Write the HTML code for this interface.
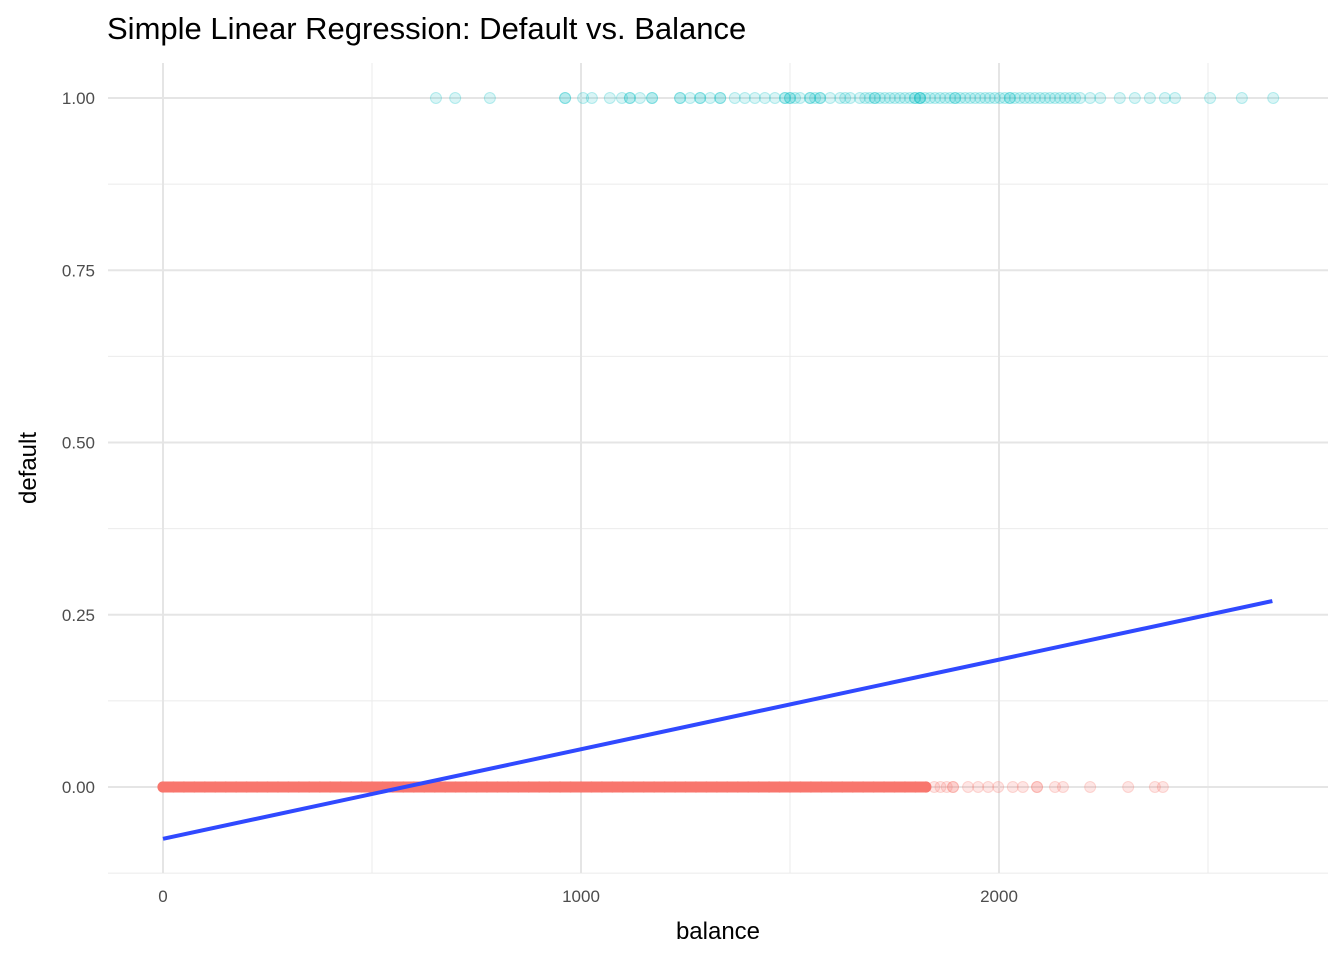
<!DOCTYPE html>
<html><head><meta charset="utf-8"><style>
body{margin:0;background:#fff;}
svg text{font-family:"Liberation Sans",Arial,sans-serif;}
</style></head><body>
<svg id="chart" width="1344" height="960" xmlns="http://www.w3.org/2000/svg">
<rect width="1344" height="960" fill="#fff"/>
<text x="107" y="39" font-size="31" fill="#000">Simple Linear Regression: Default vs. Balance</text>
<g id="grid"></g>
<g id="pts"></g>
<g id="axes"></g>
<text x="718" y="939" font-size="24" text-anchor="middle">balance</text>
<text transform="translate(36,468) rotate(-90)" font-size="24" text-anchor="middle">default</text>
</svg>
<script>
const xTicks=[0,1000,2000];
const xMinor=[500,1500,2500];
const yTicks=[0,0.25,0.5,0.75,1];
const yTickLabels=["0.00","0.25","0.50","0.75","1.00"];
const yMinor=[-0.125,0.125,0.375,0.625,0.875];
const defaultYes=[653,699,782,962,962,1005,1026,1069,1098,1117,1117,1141,1170,1170,1237,1237,1261,1285,1285,1309,1333,1333,1368,1392,1416,1440,1464,1488,1488,1500,1500,1512,1524,1548,1548,1560,1572,1572,1596,1620,1632,1644,1667,1680,1691,1703,1703,1715,1727,1739,1751,1763,1775,1787,1799,1799,1811,1811,1811,1823,1835,1847,1859,1871,1883,1895,1895,1907,1919,1931,1943,1955,1967,1978,1990,2002,2014,2026,2026,2038,2050,2062,2074,2086,2098,2110,2122,2134,2146,2158,2170,2182,2194,2218,2242,2289,2325,2361,2397,2421,2505,2581,2656];
const defaultNo=[0,25,50,75,100,125,150,175,200,225,250,275,300,325,350,375,400,425,450,475,500,525,550,575,600,625,650,675,700,725,750,775,800,825,850,875,900,925,950,975,1000,1025,1050,1075,1100,1125,1150,1175,1200,1225,1250,1275,1300,1325,1350,1375,1400,1425,1450,1475,1500,1525,1550,1575,1600,1625,1650,1675,1700,1725,1750,1775,1800,1825];
const defaultNoSparse=[1845,1860,1875,1890,1890,1926,1950,1974,1998,2033,2057,2091,2091,2134,2153,2218,2309,2373,2392];
const fitX=[0,2654];
const fitY=[-0.0752,0.2699];
const sx=v=>163+v*0.418;
const sy=v=>787-v*689;
const NS="http://www.w3.org/2000/svg";
function mk(tag,attrs,parent){const e=document.createElementNS(NS,tag);for(const k in attrs)e.setAttribute(k,attrs[k]);parent.appendChild(e);return e;}
const grid=document.getElementById('grid'),pts=document.getElementById('pts'),axes=document.getElementById('axes');
const L=108,R=1328,T=63,B=873;
yMinor.forEach(v=>{const l=mk('line',{x1:L,x2:R,y1:sy(v),y2:sy(v),stroke:'#ebebeb','stroke-width':1},grid);
});
xMinor.forEach(v=>{const l=mk('line',{x1:sx(v),x2:sx(v),y1:T,y2:B,stroke:'#ebebeb','stroke-width':1},grid);
});
yTicks.forEach((v,i)=>{const l=mk('line',{x1:L,x2:R,y1:sy(v),y2:sy(v),stroke:'#e5e5e5','stroke-width':2},grid);

const t=mk('text',{x:95,y:sy(v)+6,'font-size':17,'text-anchor':'end',fill:'#4d4d4d'},axes);t.textContent=yTickLabels[i];
});
xTicks.forEach(v=>{const l=mk('line',{x1:sx(v),x2:sx(v),y1:T,y2:B,stroke:'#e5e5e5','stroke-width':2},grid);

const t=mk('text',{x:sx(v),y:902,'font-size':17,'text-anchor':'middle',fill:'#4d4d4d'},axes);t.textContent=v;
});
for(let i=1;i<defaultNo.length;i++){
  const s=mk('line',{x1:sx(defaultNo[i-1]),x2:sx(defaultNo[i]),y1:sy(0),y2:sy(0),stroke:'#F8766D','stroke-width':11},pts);
  
}
defaultNo.forEach(v=>{const c=mk('circle',{cx:sx(v),cy:sy(0),r:5.6,fill:'#F8766D'},pts);
});
defaultNoSparse.forEach(v=>{const c=mk('circle',{cx:sx(v),cy:sy(0),r:5.5,fill:'#F8766D','fill-opacity':0.18,stroke:'#F8766D','stroke-opacity':0.25,'stroke-width':1},pts);
});
defaultYes.forEach(v=>{const c=mk('circle',{cx:sx(v),cy:sy(1),r:5.5,fill:'#00BFC4','fill-opacity':0.15,stroke:'#00BFC4','stroke-opacity':0.25,'stroke-width':1},pts);
});
const fl=mk('line',{x1:sx(fitX[0]),y1:sy(fitY[0]),x2:sx(fitX[1]),y2:sy(fitY[1]),stroke:'#3049FF','stroke-width':4},pts);

</script>
</body></html>
